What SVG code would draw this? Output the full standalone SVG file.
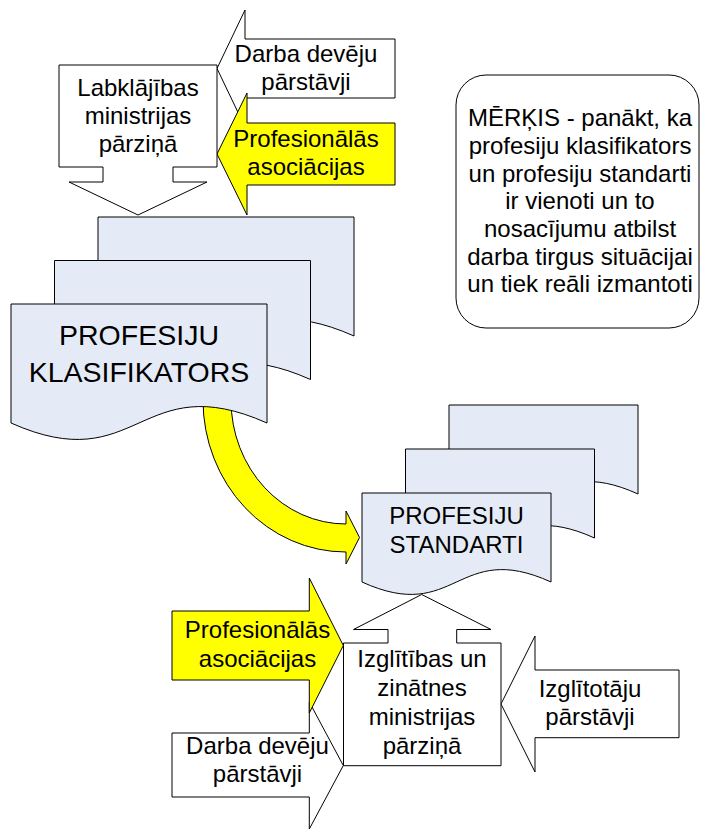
<svg xmlns="http://www.w3.org/2000/svg" width="701" height="830" viewBox="0 0 701 830">
  <style>
    .box { fill: #ffffff; stroke: #000000; stroke-width: 1; stroke-linejoin: miter; }
    .hl { fill: #ffff00; stroke: #000000; stroke-width: 1; }
    .doc { fill: #e5ebf6; stroke: #000000; stroke-width: 1; }
    text { font-family: "Liberation Sans", Arial, sans-serif; fill: #000000; text-anchor: middle; }
    .t24 { font-size: 24px; }
    .t28 { font-size: 28.5px; }
  </style>

  <rect x="0" y="0" width="701" height="830" fill="#ffffff"/>

  <!-- Connectors: curved transfer arrow from the classifier to the standards -->
  <g id="connectors">
    <path class="hl" d="M203,392 V400 A143,152 0 0 0 346,552 V564 L359.5,537.5 L346,511 V524 A115,124 0 0 1 231,400 V392 Z"/>
  </g>

  <!-- Employers' representatives (top) -->
  <g id="employers-top">
    <path class="box" d="M217,68.5 L245,10 V39 H395 V98 H245 V127 Z"/>
    <text class="t24" x="306" y="62">Darba devēju</text>
    <text class="t24" x="306" y="90">pārstāvji</text>
  </g>

  <!-- Professional associations (top) -->
  <g id="associations-top">
    <path class="hl" d="M217,154 L247,93 V123 H395 V185 H247 V215 Z"/>
    <text class="t24" x="306" y="147">Profesionālās</text>
    <text class="t24" x="306" y="175">asociācijas</text>
  </g>

  <!-- Ministry of Welfare -->
  <g id="welfare-ministry">
    <path class="box" d="M59,65 H217 V167 H173 V182 H207 L138,215 L69,182 H103 V167 H59 Z"/>
    <text class="t24" x="138" y="95.5">Labklājības</text>
    <text class="t24" x="138" y="123.5">ministrijas</text>
    <text class="t24" x="138" y="151.5">pārziņā</text>
  </g>

  <!-- Occupation classifier: stacked documents -->
  <g id="classifier">
    <path class="doc" d="M98,217 H354 V336 C226,279 226,393 98,336 Z"/>
    <path class="doc" d="M54.5,260.5 H310.5 V379.5 C182.5,322.5 182.5,436.5 54.5,379.5 Z"/>
    <path class="doc" d="M11,304 H267 V423 C139,366 139,480 11,423 Z"/>
    <text class="t28" x="139" y="345">PROFESIJU</text>
    <text class="t28" x="139" y="381.5">KLASIFIKATORS</text>
  </g>

  <!-- Occupational standards: stacked documents -->
  <g id="standards">
    <path class="doc" d="M449,405 H638 V494 C543.5,451 543.5,537 449,494 Z"/>
    <path class="doc" d="M405.5,449 H594.5 V538 C500,495 500,581 405.5,538 Z"/>
    <path class="doc" d="M362,493 H551 V582 C456.5,539 456.5,625 362,582 Z"/>
    <text class="t24" x="456.5" y="524">PROFESIJU</text>
    <text class="t24" x="456.5" y="553">STANDARTI</text>
  </g>

  <!-- Goal statement -->
  <g id="goal">
    <rect class="box" x="456" y="75" width="243" height="253" rx="30" ry="30"/>
    <text class="t24" x="580" y="126">MĒRĶIS - panākt, ka</text>
    <text class="t24" x="580" y="154">profesiju klasifikators</text>
    <text class="t24" x="580" y="181.5">un profesiju standarti</text>
    <text class="t24" x="580" y="209">ir vienoti un to</text>
    <text class="t24" x="580" y="237">nosacījumu atbilst</text>
    <text class="t24" x="580" y="264.5">darba tirgus situācijai</text>
    <text class="t24" x="580" y="292">un tiek reāli izmantoti</text>
  </g>

  <!-- Ministry of Education and Science -->
  <g id="education-ministry">
    <path class="box" d="M343.5,643 H388 V629.5 H353.5 L421.7,594.5 L491,629.5 H456.7 V643 H501 V765.7 H343.5 Z"/>
    <text class="t24" x="422" y="667">Izglītības un</text>
    <text class="t24" x="422" y="696">zinātnes</text>
    <text class="t24" x="422" y="725">ministrijas</text>
    <text class="t24" x="422" y="754">pārziņā</text>
  </g>

  <!-- Educators' representatives -->
  <g id="educators">
    <path class="box" d="M501,704 L535,636 V670 H679 V737.7 H535 V772 Z"/>
    <text class="t24" x="590" y="697">Izglītotāju</text>
    <text class="t24" x="590" y="725">pārstāvji</text>
  </g>

  <!-- Employers' representatives (bottom) -->
  <g id="employers-bottom">
    <path class="box" d="M172,733 H309.3 V702 L343.3,765.5 L309.3,829 V797 H172 Z"/>
    <text class="t24" x="257.5" y="754">Darba devēju</text>
    <text class="t24" x="257.5" y="782">pārstāvji</text>
  </g>

  <!-- Professional associations (bottom) -->
  <g id="associations-bottom">
    <path class="hl" d="M172,611 H309.3 V578 L343.3,645.5 L309.3,713 V680 H172 Z"/>
    <text class="t24" x="257.5" y="638">Profesionālās</text>
    <text class="t24" x="257.5" y="667">asociācijas</text>
  </g>
</svg>
